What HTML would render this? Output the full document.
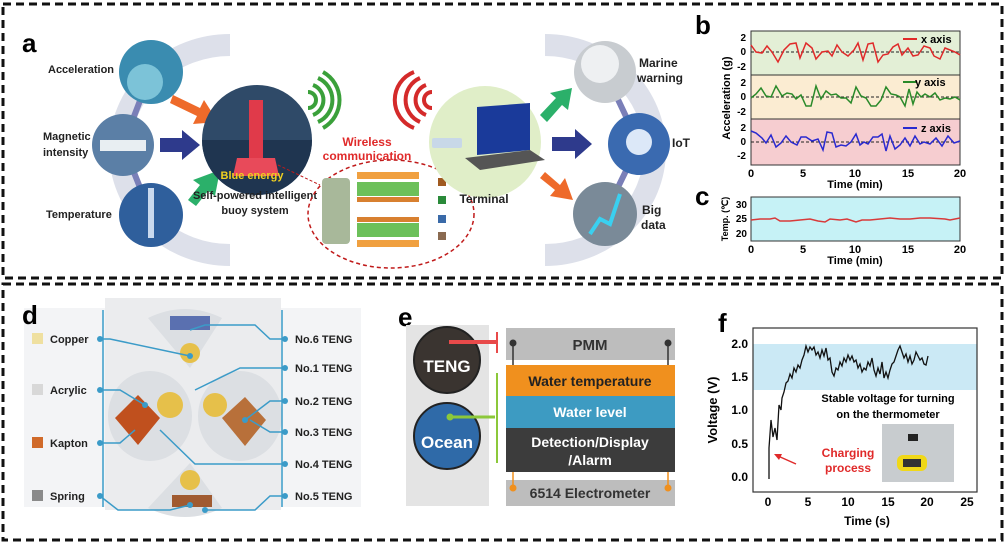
<!DOCTYPE html>
<html><head><meta charset="utf-8"><style>
body{margin:0;background:#fff;}
svg{display:block;font-family:"Liberation Sans",Arial,sans-serif;}
</style></head><body>
<svg width="1006" height="545" viewBox="0 0 1006 545" xmlns="http://www.w3.org/2000/svg">
<rect width="1006" height="545" fill="#fff"/>
<rect x="3" y="4" width="999" height="274" fill="none" stroke="#111" stroke-width="3" stroke-dasharray="8,5"/>
<rect x="3" y="284" width="999" height="256" fill="none" stroke="#111" stroke-width="3" stroke-dasharray="8,5"/>

<!-- PANEL A -->
<text x="22" y="52" font-size="26" font-weight="bold">a</text>
<path d="M230,45 A110,105 0 0 0 230,255" fill="none" stroke="#dde0ea" stroke-width="22"/>
<path d="M545,45 A110,105 0 0 1 545,255" fill="none" stroke="#dde0ea" stroke-width="22"/>
<path d="M151,72 L123,145 L151,215" fill="none" stroke="#7a7fb8" stroke-width="6"/>
<path d="M605,72 L639,144 L605,214" fill="none" stroke="#7a7fb8" stroke-width="6"/>
<circle cx="151" cy="72" r="32" fill="#3a8cb0"/>
<circle cx="145" cy="82" r="18" fill="#7cc3d8"/>
<circle cx="123" cy="145" r="31" fill="#5b7fa6"/>
<rect x="100" y="140" width="46" height="11" fill="#e8eef2"/>
<circle cx="151" cy="215" r="32" fill="#2f5f9c"/>
<rect x="148" y="188" width="6" height="50" fill="#c9d9ee"/>
<text x="48" y="73" font-size="11" font-weight="bold" fill="#222">Acceleration</text>
<text x="43" y="140" font-size="11" font-weight="bold" fill="#222">Magnetic</text>
<text x="43" y="156" font-size="11" font-weight="bold" fill="#222">intensity</text>
<text x="46" y="218" font-size="11" font-weight="bold" fill="#222">Temperature</text>
<path d="M173,95 L200,108 L204,100 L218,122 L193,124 L197,116 L170,103Z" fill="#ee6a2a"/>
<path d="M160,138 L182,138 L182,130 L200,145 L182,160 L182,152 L160,152Z" fill="#2e3a8c"/>
<path d="M188,200 L200,185 L193,180 L220,170 L215,196 L208,191 L196,206Z" fill="#2bb06a"/>
<circle cx="257" cy="140" r="55" fill="#2f4a68"/>
<path d="M202,140 A55,55 0 0 0 312,140Z" fill="#1f3550"/>
<rect x="249" y="100" width="14" height="58" fill="#e03a4a"/>
<path d="M237,158 L275,158 L279,176 L233,176Z" fill="#e84a5a"/>
<text x="252" y="179" font-size="11" font-weight="bold" fill="#f0d020" text-anchor="middle">Blue energy</text>
<text x="255" y="199" font-size="11" font-weight="bold" fill="#222" text-anchor="middle">Self-powered intelligent</text>
<text x="255" y="214" font-size="11" font-weight="bold" fill="#222" text-anchor="middle">buoy system</text>
<g fill="none" stroke="#3aa03a" stroke-width="4"><path d="M308,92 A8,8 0 0 1 308,108"/><path d="M313,85 A16,16 0 0 1 313,115"/><path d="M318,78 A24,24 0 0 1 318,122"/><path d="M323,72 A32,32 0 0 1 323,128"/></g>
<g fill="none" stroke="#d42a2a" stroke-width="4"><path d="M432,92 A8,8 0 0 0 432,108"/><path d="M426,85 A16,16 0 0 0 426,115"/><path d="M420,78 A24,24 0 0 0 420,122"/><path d="M414,72 A30,30 0 0 0 414,128"/></g>
<text x="367" y="146" font-size="12" font-weight="bold" fill="#e02a2a" text-anchor="middle">Wireless</text>
<text x="367" y="160" font-size="12" font-weight="bold" fill="#e02a2a" text-anchor="middle">communication</text>
<ellipse cx="391" cy="214" rx="83" ry="54" fill="none" stroke="#c01a1a" stroke-width="1.5" stroke-dasharray="4,3"/>
<line x1="278" y1="165" x2="320" y2="185" stroke="#c01a1a" stroke-width="1" stroke-dasharray="3,2"/>
<rect x="322" y="178" width="28" height="66" fill="#a8b89a" rx="4"/>
<rect x="357" y="172" width="62" height="7" fill="#f0a040"/>
<rect x="357" y="182" width="62" height="14" fill="#6cc05a"/>
<rect x="357" y="197" width="62" height="5" fill="#d88030"/>
<rect x="357" y="217" width="62" height="5" fill="#d88030"/>
<rect x="357" y="223" width="62" height="14" fill="#6cc05a"/>
<rect x="357" y="240" width="62" height="7" fill="#f0a040"/>
<rect x="438" y="178" width="8" height="8" fill="#a05a20"/>
<rect x="438" y="196" width="8" height="8" fill="#2a8a3a"/>
<rect x="438" y="215" width="8" height="8" fill="#3a6aa8"/>
<rect x="438" y="232" width="8" height="8" fill="#8a6a50"/>
<circle cx="485" cy="142" r="56" fill="#e0eec8"/>
<path d="M477,107 L530,103 L530,150 L477,155Z" fill="#1a3a9a"/>
<path d="M465,158 L530,150 L545,160 L480,170Z" fill="#555"/>
<rect x="432" y="138" width="30" height="10" fill="#c8d8e8" rx="2"/>
<text x="484" y="203" font-size="12" font-weight="bold" fill="#222" text-anchor="middle">Terminal</text>
<path d="M540,115 L556,98 L550,93 L572,88 L568,110 L562,105 L547,122Z" fill="#2bb06a"/>
<path d="M552,137 L575,137 L575,129 L592,144 L575,159 L575,151 L552,151Z" fill="#2e3a8c"/>
<path d="M545,172 L560,185 L565,178 L573,200 L550,196 L555,190 L540,178Z" fill="#ee6a2a"/>
<circle cx="605" cy="72" r="31" fill="#c8ccd0"/>
<circle cx="600" cy="64" r="19" fill="#eef0f2"/>
<circle cx="639" cy="144" r="31" fill="#3a6ab0"/>
<circle cx="639" cy="142" r="13" fill="#dce8f8"/>
<circle cx="605" cy="214" r="32" fill="#7a8a98"/>
<path d="M590,234 L600,219 L610,224 L620,194" fill="none" stroke="#3ad0f0" stroke-width="4"/>
<text x="639" y="67" font-size="12" font-weight="bold" fill="#222">Marine</text>
<text x="637" y="82" font-size="12" font-weight="bold" fill="#222">warning</text>
<text x="672" y="147" font-size="12" font-weight="bold" fill="#222">IoT</text>
<text x="642" y="214" font-size="12" font-weight="bold" fill="#222">Big</text>
<text x="641" y="229" font-size="12" font-weight="bold" fill="#222">data</text>

<!-- PANEL B -->
<text x="695" y="34" font-size="26" font-weight="bold">b</text>
<rect x="751" y="31" width="209" height="44" fill="#e3efd6"/>
<rect x="751" y="75" width="209" height="44" fill="#fbecd2"/>
<rect x="751" y="119" width="209" height="46" fill="#f6cdd0"/>
<rect x="751" y="31" width="209" height="134" fill="none" stroke="#333" stroke-width="1"/>
<line x1="751" y1="75" x2="960" y2="75" stroke="#333"/>
<line x1="751" y1="119" x2="960" y2="119" stroke="#333"/>
<g stroke="#222" stroke-dasharray="3,2"><line x1="751" y1="52" x2="960" y2="52"/><line x1="751" y1="97" x2="960" y2="97"/><line x1="751" y1="142" x2="960" y2="142"/></g>
<polyline fill="none" stroke="#e02a2a" stroke-width="1.5" points="751,45 756,52 762,53 767,46 772,52 778,62 784,50 790,44 796,43 800,58 806,43 812,48 816,59 822,52 828,51 832,56 837,45 842,52 848,56 854,50 858,43 863,60 868,44 873,43 878,62 883,55 888,54 893,47 898,44 902,55 908,48 913,56 918,55 924,46 930,48 934,56 940,59 945,48 950,50 955,52 960,55"/>
<polyline fill="none" stroke="#2a8a2a" stroke-width="1.5" points="751,98 756,94 761,88 766,96 771,97 776,86 782,96 787,93 792,94 796,99 801,95 806,106 811,106 816,86 821,99 826,91 831,95 836,94 841,98 846,98 851,103 856,87 861,96 866,98 871,106 876,106 881,100 886,87 891,94 896,95 900,97 905,106 909,89 913,104 917,92 921,97 925,94 930,97 935,93 940,100 945,98 950,99 955,97 960,100"/>
<polyline fill="none" stroke="#2a2ad0" stroke-width="1.5" points="751,131 756,133 762,138 766,143 771,135 776,147 781,143 786,136 791,142 797,145 801,137 806,137 812,141 818,139 823,150 827,132 832,133 836,147 841,145 846,146 851,142 856,134 860,145 864,142 868,144 873,137 878,137 882,134 886,151 890,136 895,149 900,145 905,138 910,146 915,136 920,144 924,142 930,144 936,138 942,146 948,136 954,143 960,141"/>
<line x1="903" y1="39" x2="917" y2="39" stroke="#e02a2a" stroke-width="2"/><text x="921" y="43" font-size="11" font-weight="bold">x axis</text>
<line x1="903" y1="82" x2="917" y2="82" stroke="#2a8a2a" stroke-width="2"/><text x="915" y="86" font-size="11" font-weight="bold">y axis</text>
<line x1="903" y1="128" x2="917" y2="128" stroke="#2a2ad0" stroke-width="2"/><text x="921" y="132" font-size="11" font-weight="bold">z axis</text>
<g font-size="10" font-weight="bold" text-anchor="end">
<text x="746" y="41">2</text><text x="746" y="55">0</text><text x="746" y="70">-2</text>
<text x="746" y="86">2</text><text x="746" y="100">0</text><text x="746" y="115">-2</text>
<text x="746" y="131">2</text><text x="746" y="145">0</text><text x="746" y="159">-2</text></g>
<text transform="translate(730,98) rotate(-90)" font-size="11" font-weight="bold" text-anchor="middle">Acceleration (g)</text>
<g font-size="11" font-weight="bold" text-anchor="middle">
<text x="751" y="177">0</text><text x="803" y="177">5</text><text x="855" y="177">10</text><text x="908" y="177">15</text><text x="960" y="177">20</text>
<text x="855" y="188">Time (min)</text></g>

<!-- PANEL C -->
<text x="695" y="205" font-size="26" font-weight="bold">c</text>
<rect x="751" y="197" width="209" height="44" fill="#c6f2f6" stroke="#333"/>
<polyline fill="none" stroke="#d83a3a" stroke-width="1.5" points="751,220 760,219 770,219 775,218 780,221 790,221 800,220 810,219 818,221 825,222 830,219 840,220 847,219 856,222 862,220 870,220 880,219 890,218 900,219 910,219 920,218 930,218 945,219 950,220 960,218"/>
<g font-size="10" font-weight="bold" text-anchor="end"><text x="747" y="208">30</text><text x="747" y="222">25</text><text x="747" y="237">20</text></g>
<text transform="translate(728,219) rotate(-90)" font-size="9" font-weight="bold" text-anchor="middle">Temp. (℃)</text>
<g font-size="11" font-weight="bold" text-anchor="middle">
<text x="751" y="253">0</text><text x="803" y="253">5</text><text x="855" y="253">10</text><text x="908" y="253">15</text><text x="960" y="253">20</text>
<text x="855" y="264">Time (min)</text></g>

<!-- PANEL D -->
<rect x="24" y="308" width="337" height="199" fill="#f3f4f6"/>
<rect x="105" y="298" width="176" height="212" fill="#ebecee"/>
<text x="22" y="324" font-size="26" font-weight="bold">d</text>
<path d="M148,318 Q185,300 222,318 L190,368 Z" fill="#dcdfe3"/>
<path d="M148,508 Q185,526 222,508 L190,463 Z" fill="#dcdfe3"/>
<ellipse cx="150" cy="416" rx="42" ry="45" fill="#dcdfe3"/>
<ellipse cx="240" cy="416" rx="42" ry="45" fill="#dcdfe3"/>
<path d="M115,418 L138,395 L160,418 L138,445Z" fill="#c0501e"/>
<path d="M222,418 L245,397 L266,420 L245,446Z" fill="#b8703a"/>
<rect x="170" y="316" width="40" height="14" fill="#5a70b0"/>
<rect x="172" y="495" width="40" height="12" fill="#a05a30"/>
<circle cx="190" cy="353" r="10" fill="#e6c04a"/>
<circle cx="190" cy="480" r="10" fill="#e6c04a"/>
<circle cx="170" cy="405" r="13" fill="#e6c04a"/>
<circle cx="215" cy="405" r="12" fill="#e6c04a"/>
<g stroke="#3b9bc8" stroke-width="1.5" fill="none">
<line x1="103" y1="310" x2="103" y2="507"/><line x1="282" y1="310" x2="282" y2="507"/>
<polyline points="100,339 110,339 190,356"/>
<polyline points="100,390 120,390 145,405"/>
<polyline points="100,443 120,443 135,430"/>
<polyline points="160,430 195,464 285,464"/>
<polyline points="100,496 118,510 170,510 190,505"/>
<polyline points="285,339 270,339 255,325 205,325 190,330"/>
<polyline points="285,368 240,368 195,390"/>
<polyline points="285,401 270,401 245,420"/>
<polyline points="285,432 270,432 250,420"/>
<polyline points="285,496 270,496 255,510 205,510"/>
</g>
<g fill="#3b9bc8"><circle cx="100" cy="339" r="3"/><circle cx="100" cy="390" r="3"/><circle cx="100" cy="443" r="3"/><circle cx="100" cy="496" r="3"/>
<circle cx="285" cy="339" r="3"/><circle cx="285" cy="368" r="3"/><circle cx="285" cy="401" r="3"/><circle cx="285" cy="432" r="3"/><circle cx="285" cy="464" r="3"/><circle cx="285" cy="496" r="3"/>
<circle cx="190" cy="356" r="3"/><circle cx="145" cy="405" r="3"/><circle cx="245" cy="420" r="3"/><circle cx="190" cy="505" r="3"/><circle cx="205" cy="510" r="3"/></g>
<rect x="32" y="333" width="11" height="11" fill="#efe0a0"/>
<rect x="32" y="384" width="11" height="11" fill="#d8d8d8"/>
<rect x="32" y="437" width="11" height="11" fill="#d06a2a"/>
<rect x="32" y="490" width="11" height="11" fill="#8a8a8a"/>
<g font-size="11" font-weight="bold" fill="#222">
<text x="50" y="343">Copper</text><text x="50" y="394">Acrylic</text><text x="50" y="447">Kapton</text><text x="50" y="500">Spring</text>
<text x="295" y="343">No.6 TENG</text><text x="295" y="372">No.1 TENG</text><text x="295" y="405">No.2 TENG</text><text x="295" y="436">No.3 TENG</text><text x="295" y="468">No.4 TENG</text><text x="295" y="500">No.5 TENG</text></g>

<!-- PANEL E -->
<text x="398" y="326" font-size="26" font-weight="bold">e</text>
<rect x="406" y="325" width="83" height="181" fill="#e4e4e4"/>
<circle cx="447" cy="360" r="33" fill="#3a3430" stroke="#222" stroke-width="2"/>
<line x1="449" y1="342" x2="497" y2="342" stroke="#e84a4a" stroke-width="4"/>
<line x1="497" y1="332" x2="497" y2="353" stroke="#e84a4a" stroke-width="2"/>
<text x="447" y="372" font-size="17" font-weight="bold" fill="#fff" text-anchor="middle">TENG</text>
<circle cx="447" cy="436" r="33" fill="#2f6aa8" stroke="#222" stroke-width="2"/>
<line x1="450" y1="417" x2="495" y2="417" stroke="#8cc83a" stroke-width="3"/>
<circle cx="450" cy="417" r="3.5" fill="#8cc83a"/>
<text x="447" y="448" font-size="17" font-weight="bold" fill="#fff" text-anchor="middle">Ocean</text>
<line x1="497" y1="373" x2="497" y2="463" stroke="#8cc83a" stroke-width="2"/>
<rect x="506" y="328" width="169" height="32" fill="#bdbdbd"/>
<text x="590" y="350" font-size="15" font-weight="bold" fill="#333" text-anchor="middle">PMM</text>
<rect x="506" y="365" width="169" height="31" fill="#f0901e"/>
<text x="590" y="386" font-size="14" font-weight="bold" fill="#222" text-anchor="middle">Water temperature</text>
<rect x="506" y="396" width="169" height="32" fill="#3d9bc2"/>
<text x="590" y="417" font-size="14" font-weight="bold" fill="#fff" text-anchor="middle">Water level</text>
<rect x="506" y="428" width="169" height="44" fill="#3c3c3c"/>
<text x="590" y="447" font-size="14" font-weight="bold" fill="#fff" text-anchor="middle">Detection/Display</text>
<text x="590" y="465" font-size="14" font-weight="bold" fill="#fff" text-anchor="middle">/Alarm</text>
<rect x="506" y="480" width="169" height="26" fill="#bdbdbd"/>
<text x="590" y="498" font-size="14" font-weight="bold" fill="#333" text-anchor="middle">6514 Electrometer</text>
<g stroke="#333" stroke-width="1.5"><line x1="513" y1="343" x2="513" y2="365"/><line x1="668" y1="343" x2="668" y2="365"/></g>
<circle cx="513" cy="343" r="3.5" fill="#333"/><circle cx="668" cy="343" r="3.5" fill="#333"/>
<g stroke="#f0901e" stroke-width="1.5"><line x1="513" y1="472" x2="513" y2="488"/><line x1="668" y1="472" x2="668" y2="488"/></g>
<circle cx="513" cy="488" r="3.5" fill="#f0901e"/><circle cx="668" cy="488" r="3.5" fill="#f0901e"/>

<!-- PANEL F -->
<text x="718" y="332" font-size="26" font-weight="bold">f</text>
<rect x="753" y="344" width="224" height="46" fill="#cbe9f5"/>
<rect x="753" y="328" width="224" height="164" fill="none" stroke="#333" stroke-width="1.2"/>
<polyline fill="none" stroke="#111" stroke-width="1.3" points="769,479 769,448 771,420 773,437 775,428 777,440 779,405 781,410 782,398 784,392 786,383 788,381 790,374 792,378 794,368 796,372 798,365 800,368 802,360 804,355 806,346 808,352 810,347 812,350 814,347 816,355 818,352 820,358 822,350 824,356 826,348 828,360 830,358 832,372 834,376 836,368 838,370 840,362 842,366 844,358 846,362 848,355 850,360 852,356 854,362 856,360 858,368 860,364 862,372 864,368 866,370 868,362 870,366 872,358 874,370 876,376 878,368 880,374 882,362 884,378 886,372 888,378 890,370 892,364 894,362 896,356 898,350 900,346 902,352 904,358 906,354 908,362 910,356 912,364 914,360 916,352 918,356 920,360 922,358 924,364 926,365 928,356"/>
<g font-size="12" font-weight="bold" text-anchor="end">
<text x="748" y="348">2.0</text><text x="748" y="381">1.5</text><text x="748" y="414">1.0</text><text x="748" y="448">0.5</text><text x="748" y="481">0.0</text></g>
<text transform="translate(717,410) rotate(-90)" font-size="13" font-weight="bold" text-anchor="middle">Voltage (V)</text>
<g font-size="12" font-weight="bold" text-anchor="middle">
<text x="768" y="506">0</text><text x="808" y="506">5</text><text x="848" y="506">10</text><text x="888" y="506">15</text><text x="927" y="506">20</text><text x="967" y="506">25</text>
<text x="867" y="525">Time (s)</text></g>
<text x="888" y="402" font-size="11" font-weight="bold" text-anchor="middle">Stable voltage for turning</text>
<text x="888" y="418" font-size="11" font-weight="bold" text-anchor="middle">on the thermometer</text>
<rect x="882" y="424" width="72" height="58" fill="#c8cccf"/>
<rect x="897" y="455" width="30" height="16" rx="6" fill="#f0d818"/>
<rect x="903" y="459" width="18" height="8" fill="#333"/>
<rect x="908" y="434" width="10" height="7" fill="#222"/>
<text x="848" y="457" font-size="12" font-weight="bold" fill="#e02a2a" text-anchor="middle">Charging</text>
<text x="848" y="472" font-size="12" font-weight="bold" fill="#e02a2a" text-anchor="middle">process</text>
<line x1="796" y1="464" x2="778" y2="456" stroke="#e02a2a" stroke-width="1.5"/>
<path d="M774,454 L782,454 L779,460Z" fill="#e02a2a"/>
</svg>
</body></html>
